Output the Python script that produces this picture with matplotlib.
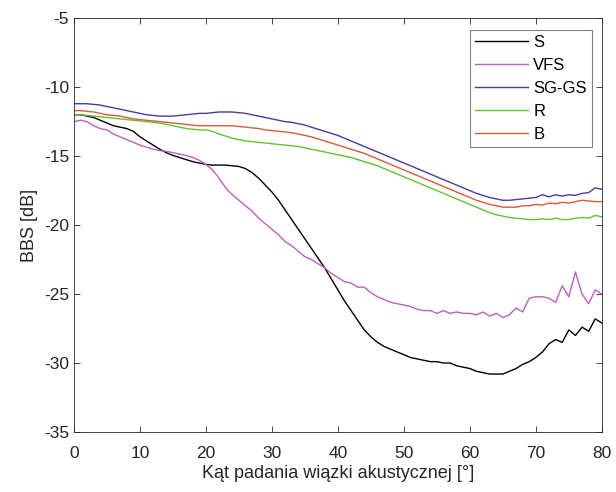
import numpy as np
import matplotlib.pyplot as plt

plt.rcParams['font.family'] = ['Liberation Sans', 'DejaVu Sans']
plt.rcParams['axes.unicode_minus'] = False

angle = np.arange(0, 81, 1)

S = [-12.0, -12.0, -12.1, -12.2, -12.4, -12.6, -12.8, -12.9, -13.0, -13.2,
     -13.6, -13.9, -14.2, -14.5, -14.75, -14.95, -15.1, -15.25, -15.4, -15.5,
     -15.6, -15.65, -15.65, -15.65, -15.7, -15.75, -15.9, -16.2, -16.6, -17.1,
     -17.6, -18.2, -18.9, -19.6, -20.3, -21.0, -21.7, -22.4, -23.1, -23.9,
     -24.7, -25.5, -26.2, -26.9, -27.6, -28.1, -28.5, -28.8, -29.0, -29.2,
     -29.4, -29.6, -29.7, -29.8, -29.9, -29.9, -30.0, -30.0, -30.2, -30.3,
     -30.4, -30.6, -30.7, -30.8, -30.8, -30.8, -30.6, -30.4, -30.1, -29.9,
     -29.6, -29.2, -28.6, -28.3, -28.5, -27.6, -28.0, -27.4, -27.7, -26.8,
     -27.1]

VFS = [-12.5, -12.4, -12.5, -12.8, -13.0, -13.1, -13.4, -13.6, -13.8, -14.0,
       -14.2, -14.35, -14.5, -14.6, -14.65, -14.75, -14.85, -14.95, -15.1, -15.3,
       -15.6, -16.0, -16.6, -17.3, -17.8, -18.2, -18.6, -19.0, -19.5, -19.9,
       -20.3, -20.7, -21.2, -21.5, -21.9, -22.3, -22.5, -22.8, -23.1, -23.5,
       -23.8, -24.1, -24.2, -24.5, -24.5, -24.9, -25.2, -25.4, -25.6, -25.7,
       -25.8, -25.9, -26.1, -26.2, -26.2, -26.4, -26.2, -26.4, -26.3, -26.4,
       -26.4, -26.5, -26.3, -26.6, -26.4, -26.7, -26.5, -26.0, -26.3, -25.3,
       -25.2, -25.2, -25.3, -25.6, -24.4, -25.2, -23.4, -25.0, -25.7, -24.7,
       -25.0]

SG_GS = [-11.2, -11.2, -11.2, -11.25, -11.3, -11.4, -11.5, -11.6, -11.7, -11.8,
         -11.9, -12.0, -12.05, -12.1, -12.1, -12.1, -12.05, -12.0, -11.95, -11.9,
         -11.9, -11.85, -11.8, -11.8, -11.8, -11.85, -11.9, -12.0, -12.1, -12.2,
         -12.3, -12.4, -12.5, -12.55, -12.65, -12.75, -12.9, -13.05, -13.2, -13.35,
         -13.5, -13.7, -13.9, -14.1, -14.3, -14.5, -14.7, -14.9, -15.1, -15.3,
         -15.5, -15.7, -15.9, -16.1, -16.3, -16.5, -16.7, -16.9, -17.1, -17.3,
         -17.5, -17.7, -17.85, -18.0, -18.1, -18.2, -18.2, -18.15, -18.1, -18.05,
         -18.0, -17.8, -17.95, -17.8, -17.9, -17.8, -17.85, -17.7, -17.65, -17.3,
         -17.4]

R = [-12.0, -12.0, -12.05, -12.1, -12.15, -12.2, -12.25, -12.3, -12.35, -12.4,
     -12.45, -12.5, -12.55, -12.6, -12.7, -12.8, -12.9, -13.0, -13.05, -13.1,
     -13.1, -13.2, -13.4, -13.55, -13.7, -13.8, -13.9, -13.95, -14.0, -14.05,
     -14.1, -14.15, -14.2, -14.25, -14.3, -14.4, -14.5, -14.6, -14.7, -14.8,
     -14.9, -15.0, -15.1, -15.25, -15.4, -15.55, -15.7, -15.9, -16.1, -16.3,
     -16.5, -16.7, -16.9, -17.1, -17.3, -17.5, -17.7, -17.9, -18.1, -18.3,
     -18.5, -18.7, -18.9, -19.1, -19.25, -19.35, -19.45, -19.5, -19.55, -19.6,
     -19.6, -19.55, -19.6, -19.5, -19.6, -19.6, -19.5, -19.45, -19.5, -19.3,
     -19.4]

B = [-11.7, -11.7, -11.75, -11.8, -11.9, -12.0, -12.05, -12.1, -12.2, -12.3,
     -12.35, -12.4, -12.45, -12.5, -12.55, -12.6, -12.65, -12.7, -12.75, -12.8,
     -12.8, -12.8, -12.8, -12.8, -12.8, -12.85, -12.9, -12.95, -13.0, -13.1,
     -13.15, -13.2, -13.25, -13.3, -13.4, -13.5, -13.6, -13.75, -13.9, -14.05,
     -14.2, -14.35, -14.5, -14.65, -14.8, -15.0, -15.2, -15.4, -15.6, -15.8,
     -16.0, -16.2, -16.4, -16.6, -16.8, -17.0, -17.2, -17.4, -17.6, -17.8,
     -18.0, -18.2, -18.35, -18.5, -18.6, -18.7, -18.7, -18.7, -18.6, -18.6,
     -18.5, -18.55, -18.4, -18.45, -18.35, -18.4, -18.3, -18.2, -18.25, -18.3,
     -18.3]

labels = ['S', 'VFS', 'SG-GS', 'R', 'B']
colors = ['black', '#BF5FBF', '#4B3B9B', '#63C22F', '#D95B3A']

fig = plt.figure(figsize=(6.16, 4.92), dpi=100)
ax = fig.add_axes([0.120, 0.122, 0.857, 0.841])

for y, lab, c in zip([S, VFS, SG_GS, R, B], labels, colors):
    ax.plot(angle, y, color=c, lw=1.0, label=lab)

ax.set_xlim(0, 80)
ax.set_ylim(-35, -5)
ax.set_xticks(np.arange(0, 81, 10))
ax.set_yticks(np.arange(-35, -4, 5))
ax.tick_params(direction='in', top=True, right=True, labelsize=12.5,
               length=4, width=0.6, colors='#262626')
ax.tick_params(axis='x', pad=10)
for sp in ax.spines.values():
    sp.set_linewidth(0.6)
    sp.set_color('#262626')

ax.set_xlabel('Kąt padania wiązki akustycznej [°]', fontsize=13, color='#262626',
              labelpad=3)
ax.set_ylabel('BBS [dB]', fontsize=13, color='#262626')

leg = ax.legend(loc='upper right', bbox_to_anchor=(0.981, 0.971), fontsize=12,
                fancybox=False, framealpha=1, borderaxespad=0,
                handlelength=3.2, labelspacing=0.47, handletextpad=0.3,
                borderpad=0.3)
leg.get_frame().set_edgecolor('#808080')
leg.get_frame().set_linewidth(0.8)

fig.savefig('out.png', dpi=100)
